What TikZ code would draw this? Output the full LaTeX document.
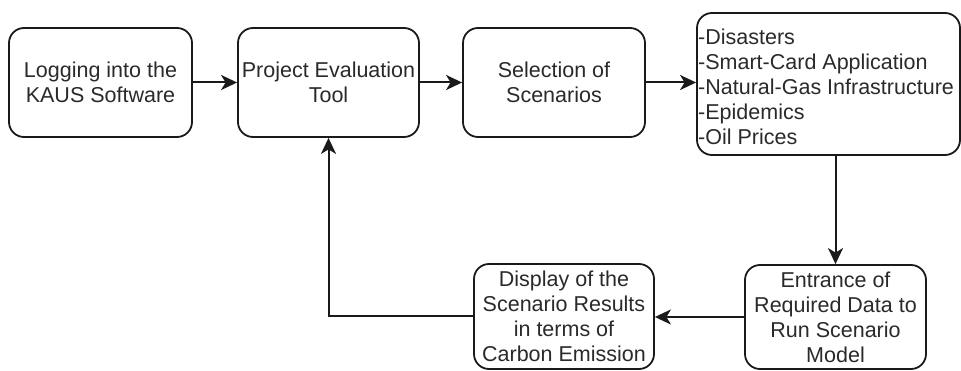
\documentclass[tikz,border=0pt]{standalone}
\usepackage{fontspec}
\setmainfont{Liberation Sans}
\usetikzlibrary{arrows.meta}
\definecolor{ink}{HTML}{1A1A1A}
\definecolor{label}{HTML}{2A2A2A}
\begin{document}
\begin{tikzpicture}[x=1pt,y=-1pt,
  stepbox/.style={draw=ink,line width=1.8pt,rounded corners=15pt,
    align=center,inner sep=0pt,text=label,
    font=\fontsize{21.5}{25}\selectfont},
  flow/.style={draw=ink,line width=2pt,
    -{Stealth[length=16pt,width=15pt,inset=4.5pt]}}]
\useasboundingbox (0,0) rectangle (961,371);
\fill[white] (0,0) rectangle (961,371);

\node[stepbox,minimum width=183pt,minimum height=109pt] (login) at (100.5,82.5)
  {Logging into the\\KAUS Software};
\node[stepbox,minimum width=181pt,minimum height=109pt] (tool) at (328.5,82.5)
  {Project Evaluation\\Tool};
\node[stepbox,minimum width=182pt,minimum height=109pt] (select) at (554,82.5)
  {Selection of\\Scenarios};
\node[stepbox,minimum width=263pt,minimum height=142pt] (list) at (828.5,84) {};
\node[anchor=west,align=left,inner sep=0pt,text=label,
  font=\fontsize{21.5}{25}\selectfont] (items) at (698,86.5)
  {-Disasters\\-Smart-Card Application\\-Natural-Gas Infrastructure\\-Epidemics\\-Oil Prices};
\node[stepbox,minimum width=181pt,minimum height=104pt] (data) at (835.5,317)
  {Entrance of\\Required Data to\\Run Scenario\\Model};
\node[stepbox,minimum width=180pt,minimum height=105pt] (result) at (564,316.5)
  {Display of the\\Scenario Results\\in terms of\\Carbon Emission};

\draw[flow] (login.east) -- (tool.west);
\draw[flow] (tool.east) -- (select.west);
\draw[flow] (select.east) -- (select.east -| list.west);
\draw[flow] (data.north |- list.south) -- (data.north);
\draw[flow] (data.west) -- (data.west -| result.east);
\draw[flow] (result.west) -| (tool.south);
\end{tikzpicture}
\end{document}
